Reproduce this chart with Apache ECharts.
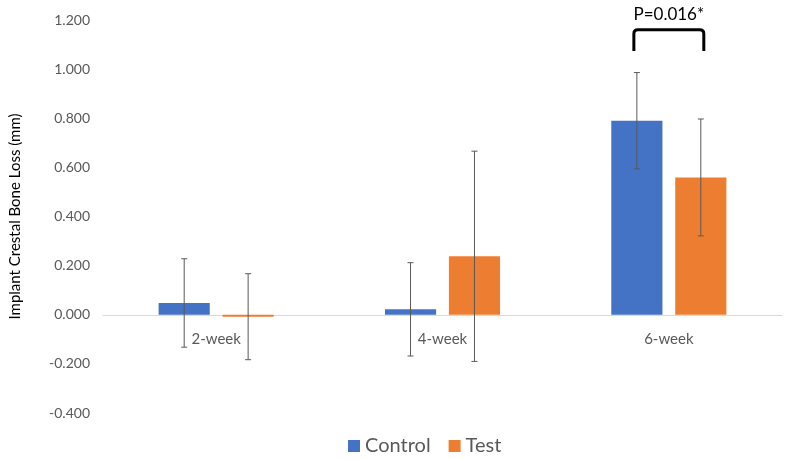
<!DOCTYPE html>
<html>
<head>
<meta charset="utf-8">
<script src="https://cdn.jsdelivr.net/npm/echarts@6/dist/echarts.min.js"></script>
<style>html,body{margin:0;padding:0;background:#fff;}#c{width:788px;height:459px;}</style>
</head>
<body>
<div id="c"></div>
<script>
var categories = ['2-week', '4-week', '6-week'];
var controlMeans = [0.048, 0.022, 0.790];
var controlErr = [0.180, 0.190, 0.196];
var testMeans = [-0.008, 0.238, 0.559];
var testErr = [0.175, 0.428, 0.238];
var yTicks = [-0.4, 1.2, 0.2];
var pText = 'P=0.016*';
var bracketLevels = [1.074, 1.160];

var FONT = 'Lato, "Open Sans", sans-serif';
var BAR_W = 0.226, GAP = 0.25;

function errData(means, errs) {
  return means.map(function (m, i) { return [i, m - errs[i], m + errs[i]]; });
}
function errRender(sign) {
  return function (params, api) {
    var x = api.value(0), lo = api.value(1), hi = api.value(2);
    var band = api.size([1, 0])[0];
    var bw = band * BAR_W;
    var off = sign * (bw + bw * GAP) / 2;
    var pH = api.coord([x, hi]), pL = api.coord([x, lo]);
    var cx = pH[0] + off, c = 3;
    var st = { stroke: '#595959', lineWidth: 1 };
    return { type: 'group', children: [
      { type: 'line', shape: { x1: cx, y1: pH[1], x2: cx, y2: pL[1] }, style: st },
      { type: 'line', shape: { x1: cx - c, y1: pH[1], x2: cx + c, y2: pH[1] }, style: st },
      { type: 'line', shape: { x1: cx - c, y1: pL[1], x2: cx + c, y2: pL[1] }, style: st }
    ]};
  };
}

var chart = echarts.init(document.getElementById('c'));
chart.setOption({
  animation: false,
  grid: { left: 100, right: 6, top: 20, bottom: 46 },
  legend: {
    data: ['Control', 'Test'], top: 431, left: 343,
    icon: 'rect', itemWidth: 12, itemHeight: 12, itemGap: 18,
    textStyle: { fontSize: 20, color: '#595959', fontFamily: FONT }
  },
  xAxis: {
    type: 'category', data: categories,
    axisLine: { onZero: true, lineStyle: { color: '#d9d9d9', width: 1 } },
    axisTick: { show: false },
    axisLabel: { show: false }
  },
  yAxis: {
    type: 'value', min: yTicks[0], max: yTicks[1], interval: yTicks[2],
    name: 'Implant Crestal Bone Loss (mm)', nameLocation: 'middle', nameGap: 80,
    nameTextStyle: { fontSize: 15, color: '#000', fontFamily: FONT },
    axisLine: { show: false }, axisTick: { show: false }, splitLine: { show: false },
    axisLabel: { fontSize: 14, color: '#595959', fontFamily: FONT, margin: 13,
      formatter: function (v) { return v.toFixed(3); } }
  },
  series: [
    { name: 'Control', type: 'bar', data: controlMeans, barWidth: (BAR_W * 100) + '%', barGap: (GAP * 100) + '%',
      itemStyle: { color: '#4472C4' } },
    { name: 'Test', type: 'bar', data: testMeans, barWidth: (BAR_W * 100) + '%',
      itemStyle: { color: '#ED7D31' } },
    { type: 'custom', name: 'errC', data: errData(controlMeans, controlErr), renderItem: errRender(-1), z: 10,
      encode: { x: 0, y: [1, 2] } },
    { type: 'custom', name: 'errT', data: errData(testMeans, testErr), renderItem: errRender(1), z: 10,
      encode: { x: 0, y: [1, 2] } },
    { type: 'custom', name: 'catLabels', z: 9, clip: false,
      data: categories.map(function (c, i) { return [i, 0]; }),
      encode: { x: 0, y: 1 },
      renderItem: function (params, api) {
        var p = api.coord([api.value(0), 0]);
        return { type: 'text', style: { text: categories[params.dataIndex], x: p[0], y: p[1] + 24,
          align: 'center', verticalAlign: 'middle', fontSize: 15, fontFamily: FONT, fill: '#595959' } };
      }
    },
    { type: 'custom', name: 'sig', clip: false, z: 11, data: [[2, bracketLevels[0], bracketLevels[1]]],
      encode: { x: 0, y: [1, 2] },
      renderItem: function (params, api) {
        var x = api.value(0);
        var band = api.size([1, 0])[0];
        var bw = band * BAR_W;
        var half = (bw + bw * GAP) / 2 + 3;
        var pT = api.coord([x, api.value(2)]), pB = api.coord([x, api.value(1)]);
        var x1 = pT[0] - half, x2 = pT[0] + half, yt = pT[1], yb = pB[1], r = 4;
        var path = 'M' + x1 + ' ' + yb + ' L' + x1 + ' ' + (yt + r) + ' Q' + x1 + ' ' + yt + ' ' + (x1 + r) + ' ' + yt +
          ' L' + (x2 - r) + ' ' + yt + ' Q' + x2 + ' ' + yt + ' ' + x2 + ' ' + (yt + r) + ' L' + x2 + ' ' + yb;
        return { type: 'group', children: [
          { type: 'path', shape: { pathData: path }, style: { stroke: '#000', lineWidth: 3, fill: null } },
          { type: 'text', style: { text: pText, x: pT[0], y: yt - 7, align: 'center', verticalAlign: 'bottom',
            fontSize: 17, fontFamily: FONT, fill: '#000' } }
        ]};
      }
    }
  ]
});
</script>
</body>
</html>
